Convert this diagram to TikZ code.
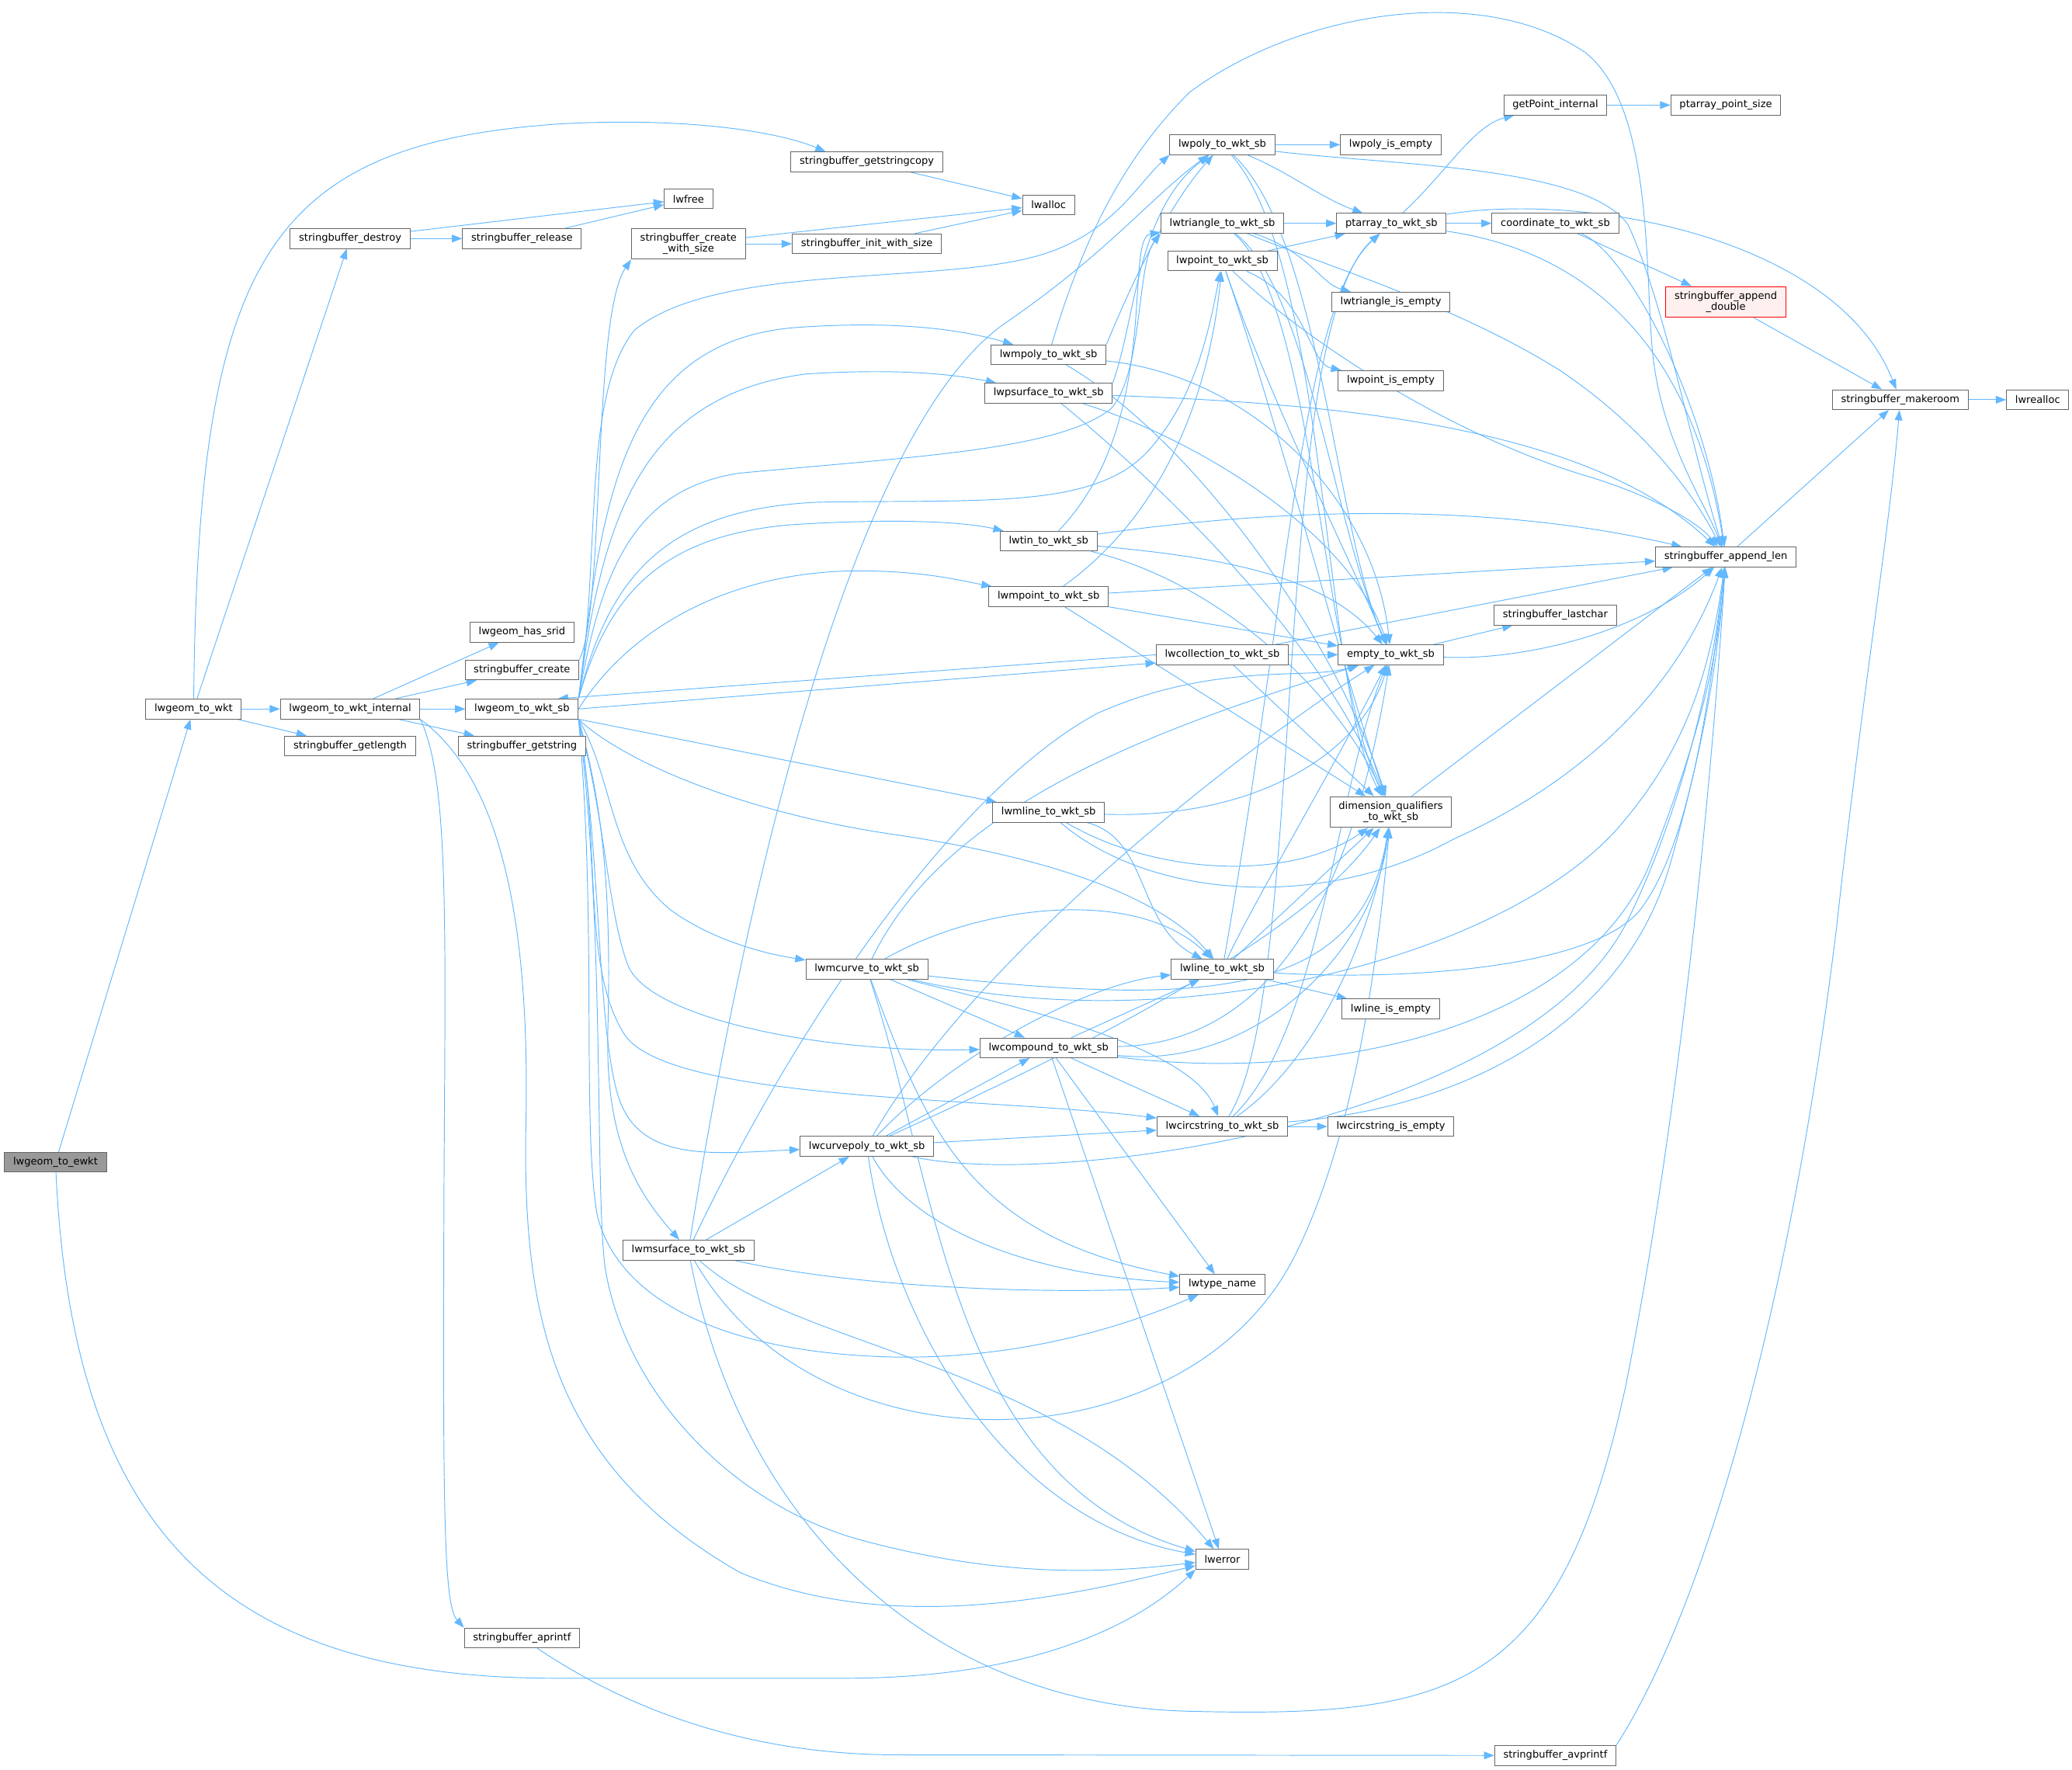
\documentclass[tikz,border=0pt]{standalone}
\usepackage{fontspec}
\setmainfont{DejaVu Sans}
\usepackage{tikz}
\usetikzlibrary{arrows.meta}
\pgfdeclarelayer{background}
\pgfsetlayers{background,main}
\definecolor{edgeblue}{HTML}{63B8FF}
\definecolor{boxgrey}{HTML}{666666}
\definecolor{rootgrey}{HTML}{999999}
\definecolor{warnfill}{HTML}{FFF0F0}
\tikzset{
  fnode/.style={draw=boxgrey, fill=white, line width=0.8pt, inner xsep=0.33cm, inner ysep=5.2pt, minimum height=0.75cm, align=center, font=\fontsize{10.9}{12}\selectfont},
  rootnode/.style={fnode, fill=rootgrey},
  warnnode/.style={fnode, draw=red, fill=warnfill},
  cgarrow/.style={-{Triangle[length=0.39cm,width=0.29cm]}, draw=edgeblue, line width=0.8pt}
}

\begin{document}
\begin{tikzpicture}[x=0.05cm, y=-0.05cm]
\useasboundingbox (0,0) rectangle (1568,1339);
\node[rootnode] (ewkt) at (42,879.5) {lwgeom\_to\_ewkt};
\node[fnode] (towkt) at (146.5,536.5) {lwgeom\_to\_wkt};
\node[fnode] (destroy) at (265,180.5) {stringbuffer\_destroy};
\node[fnode] (release) at (395,180.5) {stringbuffer\_release};
\node[fnode] (lwfree) at (521,150.5) {lwfree};
\node[fnode] (getstringcopy) at (656,122.5) {stringbuffer\_getstringcopy};
\node[fnode] (lwalloc) at (793.5,155) {lwalloc};
\node[fnode] (createws) at (521,184.5) {stringbuffer\_create\\\_with\_size};
\node[fnode] (initws) at (656,184.5) {stringbuffer\_init\_with\_size};
\node[fnode] (internal) at (265,536.5) {lwgeom\_to\_wkt\_internal};
\node[fnode] (getlength) at (265,564.5) {stringbuffer\_getlength};
\node[fnode] (hassrid) at (395,478.5) {lwgeom\_has\_srid};
\node[fnode] (sbcreate) at (395,507) {stringbuffer\_create};
\node[fnode] (wktsb) at (395,536.5) {lwgeom\_to\_wkt\_sb};
\node[fnode] (getstring) at (395,564.5) {stringbuffer\_getstring};
\node[fnode] (aprintf) at (395,1239.5) {stringbuffer\_aprintf};
\node[fnode] (avprintf) at (1177,1328.5) {stringbuffer\_avprintf};
\node[fnode] (mpoly) at (793.5,268.5) {lwmpoly\_to\_wkt\_sb};
\node[fnode] (psurface) at (793.5,297.5) {lwpsurface\_to\_wkt\_sb};
\node[fnode] (tin) at (793.5,409.5) {lwtin\_to\_wkt\_sb};
\node[fnode] (mpoint) at (793.5,451.5) {lwmpoint\_to\_wkt\_sb};
\node[fnode] (mline) at (793.5,614.8) {lwmline\_to\_wkt\_sb};
\node[fnode] (mcurve) at (656,733.5) {lwmcurve\_to\_wkt\_sb};
\node[fnode] (curvepoly) at (656,867.5) {lwcurvepoly\_to\_wkt\_sb};
\node[fnode] (msurface) at (521,946) {lwmsurface\_to\_wkt\_sb};
\node[fnode] (compound) at (793.5,793) {lwcompound\_to\_wkt\_sb};
\node[fnode] (poly) at (925,109.5) {lwpoly\_to\_wkt\_sb};
\node[fnode] (triangle) at (925,169) {lwtriangle\_to\_wkt\_sb};
\node[fnode] (point) at (925,197.5) {lwpoint\_to\_wkt\_sb};
\node[fnode] (collection) at (925,495.5) {lwcollection\_to\_wkt\_sb};
\node[fnode] (line) at (925,733.5) {lwline\_to\_wkt\_sb};
\node[fnode] (circstring) at (925,852.5) {lwcircstring\_to\_wkt\_sb};
\node[fnode] (typename) at (925,972) {lwtype\_name};
\node[fnode] (lwerror) at (925,1180) {lwerror};
\node[fnode] (polyempty) at (1052.5,109.5) {lwpoly\_is\_empty};
\node[fnode] (ptarray) at (1053,169) {ptarray\_to\_wkt\_sb};
\node[fnode] (triempty) at (1052.5,228.5) {lwtriangle\_is\_empty};
\node[fnode] (pointempty) at (1052.5,288) {lwpoint\_is\_empty};
\node[fnode] (empty) at (1052.5,495.5) {empty\_to\_wkt\_sb};
\node[fnode] (dimq) at (1052.5,614.5) {dimension\_qualifiers\\\_to\_wkt\_sb};
\node[fnode] (lineempty) at (1052.5,763.5) {lwline\_is\_empty};
\node[fnode] (circempty) at (1052.5,852.5) {lwcircstring\_is\_empty};
\node[fnode] (getpoint) at (1177,79.5) {getPoint\_internal};
\node[fnode] (ptsize) at (1306,79.5) {ptarray\_point\_size};
\node[fnode] (coord) at (1177,169) {coordinate\_to\_wkt\_sb};
\node[warnnode] (appenddouble) at (1306,228.5) {stringbuffer\_append\\\_double};
\node[fnode] (lastchar) at (1177,465.5) {stringbuffer\_lastchar};
\node[fnode] (appendlen) at (1306,421.5) {stringbuffer\_append\_len};
\node[fnode] (makeroom) at (1438,302.5) {stringbuffer\_makeroom};
\node[fnode] (lwrealloc) at (1542,302.5) {lwrealloc};
\begin{pgfonlayer}{background}
\draw[cgarrow] (ewkt) -- (towkt);
\draw[cgarrow] (ewkt) .. controls (55,1160) and (170,1270) .. (420,1270) -- (640,1270) .. controls (780,1270) and (860,1230) .. (lwerror.south west);
\draw[cgarrow] (towkt) -- (destroy);
\draw[cgarrow] (towkt) .. controls (150,200) and (200,110) .. (420,94) .. controls (520,88) and (590,100) .. (getstringcopy.166);
\draw[cgarrow] (towkt) -- (internal);
\draw[cgarrow] (towkt) -- (getlength);
\draw[cgarrow] (destroy) -- (release);
\draw[cgarrow] (destroy) -- (lwfree);
\draw[cgarrow] (release) -- (lwfree);
\draw[cgarrow] (getstringcopy) -- (lwalloc);
\draw[cgarrow] (createws) -- (lwalloc);
\draw[cgarrow] (createws) -- (initws);
\draw[cgarrow] (initws) -- (lwalloc);
\draw[cgarrow] (internal) -- (hassrid);
\draw[cgarrow] (internal) -- (sbcreate);
\draw[cgarrow] (internal) -- (wktsb);
\draw[cgarrow] (internal) -- (getstring);
\draw[cgarrow] (internal.south east) .. controls (340,590) and (337,700) .. (336,900) .. controls (335,1150) and (336,1215) .. (aprintf.north west);
\draw[cgarrow] (internal.south east) .. controls (380,590) and (401,700) .. (398,850) .. controls (395,1000) and (420,1110) .. (560,1190) .. controls (680,1240) and (820,1205) .. (lwerror);
\draw[cgarrow] (sbcreate.north east) .. controls (458,460) and (448,240) .. (createws.south west);
\draw[cgarrow] (wktsb.north east) .. controls (455,420) and (440,300) .. (480,250) .. controls (540,200) and (700,215) .. (780,195) .. controls (840,180) and (860,140) .. (poly.south west);
\draw[cgarrow] (wktsb.north east) .. controls (455,380) and (470,260) .. (600,248) .. controls (680,242) and (730,250) .. (mpoly);
\draw[cgarrow] (wktsb.north east) .. controls (455,400) and (480,300) .. (610,283) .. controls (690,278) and (730,285) .. (psurface);
\draw[cgarrow] (wktsb.north east) .. controls (455,430) and (480,370) .. (560,358) .. controls (700,345) and (800,340) .. (840,310) .. controls (865,285) and (860,200) .. (triangle.south west);
\draw[cgarrow] (wktsb.north east) .. controls (460,440) and (500,385) .. (620,380) .. controls (750,378) and (830,385) .. (870,340) .. controls (905,300) and (915,250) .. (point);
\draw[cgarrow] (wktsb.north east) .. controls (460,450) and (500,405) .. (600,397) .. controls (680,392) and (730,395) .. (tin);
\draw[cgarrow] (wktsb.east) .. controls (480,470) and (560,432) .. (650,432) .. controls (700,432) and (730,440) .. (mpoint);
\draw[cgarrow] (wktsb.east) -- (collection.187);
\draw[cgarrow] (collection.west) -- (wktsb.16);
\draw[cgarrow] (wktsb.south east) -- (mline);
\draw[cgarrow] (wktsb.south east) .. controls (470,575) and (560,615) .. (680,632) .. controls (800,650) and (880,680) .. (line);
\draw[cgarrow] (wktsb.south east) .. controls (465,590) and (460,650) .. (508,689) .. controls (540,712) and (580,722) .. (mcurve);
\draw[cgarrow] (wktsb.south east) .. controls (458,620) and (460,690) .. (475,730) .. controls (490,770) and (620,797) .. (compound);
\draw[cgarrow] (wktsb.south east) .. controls (455,640) and (440,730) .. (472,782) .. controls (504,834) and (750,830) .. (circstring);
\draw[cgarrow] (wktsb.south east) .. controls (455,650) and (452,780) .. (468,830) .. controls (484,880) and (540,873) .. (curvepoly);
\draw[cgarrow] (wktsb.south east) .. controls (460,620) and (462,700) .. (460,780) .. controls (458,860) and (480,900) .. (msurface);
\draw[cgarrow] (wktsb.south east) .. controls (452,700) and (440,850) .. (452,920) .. controls (470,990) and (560,1025) .. (680,1027) .. controls (780,1028) and (860,1000) .. (typename);
\draw[cgarrow] (wktsb.south east) .. controls (458,700) and (450,900) .. (458,960) .. controls (475,1060) and (560,1140) .. (650,1165) .. controls (760,1195) and (840,1190) .. (lwerror);
\draw[cgarrow] (mpoly.north east) .. controls (850,230) and (880,160) .. (poly);
\draw[cgarrow] (mpoly) .. controls (820,180) and (850,120) .. (900,70) .. controls (980,10) and (1120,-15) .. (1200,40) .. controls (1250,80) and (1245,200) .. (1250,260) .. controls (1255,330) and (1290,380) .. (appendlen);
\draw[cgarrow] (mpoly) .. controls (950,285) and (1040,380) .. (empty);
\draw[cgarrow] (mpoly) .. controls (900,330) and (1010,480) .. (dimq);
\draw[cgarrow] (psurface.north east) .. controls (860,240) and (860,160) .. (poly);
\draw[cgarrow] (psurface) .. controls (1000,305) and (1200,320) .. (appendlen);
\draw[cgarrow] (psurface) .. controls (900,330) and (1020,400) .. (empty);
\draw[cgarrow] (psurface) .. controls (870,360) and (1000,480) .. (dimq);
\draw[cgarrow] (tin) .. controls (880,320) and (850,180) .. (triangle);
\draw[cgarrow] (tin) .. controls (900,420) and (1000,430) .. (empty);
\draw[cgarrow] (tin) .. controls (920,440) and (1010,520) .. (dimq);
\draw[cgarrow] (tin) .. controls (1000,380) and (1150,385) .. (appendlen);
\draw[cgarrow] (mpoint) .. controls (880,390) and (915,300) .. (point);
\draw[cgarrow] (mpoint) -- (empty);
\draw[cgarrow] (mpoint) -- (dimq);
\draw[cgarrow] (mpoint) -- (appendlen);
\draw[cgarrow] (collection) -- (empty);
\draw[cgarrow] (collection) -- (dimq);
\draw[cgarrow] (collection) -- (appendlen);
\draw[cgarrow] (mline) .. controls (870,635) and (860,700) .. (line);
\draw[cgarrow] (mline) .. controls (950,620) and (1030,570) .. (empty);
\draw[cgarrow] (mline) .. controls (880,665) and (980,665) .. (dimq);
\draw[cgarrow] (mline) .. controls (870,680) and (1000,690) .. (1100,635) .. controls (1200,590) and (1270,520) .. (appendlen);
\draw[cgarrow] (mcurve) .. controls (740,685) and (860,670) .. (line);
\draw[cgarrow] (mcurve) -- (compound);
\draw[cgarrow] (mcurve) .. controls (760,760) and (900,790) .. (circstring);
\draw[cgarrow] (mcurve) .. controls (720,600) and (900,545) .. (empty);
\draw[cgarrow] (mcurve) .. controls (900,760) and (1030,760) .. (dimq);
\draw[cgarrow] (mcurve) .. controls (900,790) and (1150,720) .. (1230,620) .. controls (1280,560) and (1295,500) .. (appendlen);
\draw[cgarrow] (mcurve) .. controls (700,850) and (730,935) .. (typename);
\draw[cgarrow] (mcurve) .. controls (710,900) and (720,1120) .. (lwerror);
\draw[cgarrow] (curvepoly) .. controls (720,800) and (820,745) .. (line);
\draw[cgarrow] (curvepoly) -- (compound);
\draw[cgarrow] (curvepoly) -- (circstring);
\draw[cgarrow] (curvepoly) .. controls (740,720) and (950,560) .. (empty);
\draw[cgarrow] (curvepoly) .. controls (760,820) and (980,720) .. (dimq);
\draw[cgarrow] (curvepoly) .. controls (800,900) and (1150,850) .. (1230,700) .. controls (1270,620) and (1295,520) .. (appendlen);
\draw[cgarrow] (curvepoly) .. controls (690,930) and (780,965) .. (typename);
\draw[cgarrow] (curvepoly) .. controls (675,1000) and (760,1150) .. (lwerror);
\draw[cgarrow] (msurface) -- (curvepoly);
\draw[cgarrow] (msurface) .. controls (560,700) and (640,330) .. (760,245) .. controls (840,190) and (870,150) .. (poly);
\draw[cgarrow] (msurface) .. controls (600,780) and (720,600) .. (830,540) .. controls (920,500) and (990,515) .. (empty);
\draw[cgarrow] (msurface) .. controls (620,1120) and (900,1110) .. (980,950) .. controls (1030,850) and (1045,700) .. (dimq);
\draw[cgarrow] (msurface) .. controls (560,1150) and (700,1290) .. (900,1295) .. controls (1100,1300) and (1180,1280) .. (1230,1050) .. controls (1270,850) and (1295,600) .. (appendlen);
\draw[cgarrow] (msurface) .. controls (650,975) and (800,980) .. (typename);
\draw[cgarrow] (msurface) .. controls (600,1020) and (800,1030) .. (lwerror);
\draw[cgarrow] (compound) -- (line);
\draw[cgarrow] (compound) -- (circstring);
\draw[cgarrow] (compound) .. controls (950,790) and (1020,700) .. (empty);
\draw[cgarrow] (compound) .. controls (950,810) and (1040,720) .. (dimq);
\draw[cgarrow] (compound) .. controls (1000,820) and (1200,780) .. (1250,650) .. controls (1285,560) and (1300,500) .. (appendlen);
\draw[cgarrow] (compound) -- (typename);
\draw[cgarrow] (compound) -- (lwerror);
\draw[cgarrow] (line) .. controls (975,450) and (985,230) .. (ptarray);
\draw[cgarrow] (line) -- (lineempty);
\draw[cgarrow] (line) .. controls (950,680) and (1010,580) .. (empty);
\draw[cgarrow] (line) -- (dimq);
\draw[cgarrow] (line) .. controls (1050,742) and (1200,735) .. (1240,690) .. controls (1280,640) and (1295,520) .. (appendlen);
\draw[cgarrow] (circstring) .. controls (990,750) and (960,250) .. (ptarray);
\draw[cgarrow] (circstring) -- (circempty);
\draw[cgarrow] (circstring) .. controls (1000,780) and (1010,600) .. (empty);
\draw[cgarrow] (circstring) .. controls (1000,800) and (1040,700) .. (dimq);
\draw[cgarrow] (circstring) .. controls (1100,840) and (1230,780) .. (1265,650) .. controls (1290,560) and (1300,500) .. (appendlen);
\draw[cgarrow] (poly) -- (polyempty);
\draw[cgarrow] (poly) .. controls (975,130) and (1000,150) .. (ptarray);
\draw[cgarrow] (poly) .. controls (1000,180) and (1010,400) .. (empty);
\draw[cgarrow] (poly) .. controls (1005,200) and (1000,520) .. (dimq);
\draw[cgarrow] (poly) .. controls (1050,125) and (1200,125) .. (1232,170) .. controls (1260,230) and (1280,340) .. (appendlen);
\draw[cgarrow] (triangle) -- (ptarray);
\draw[cgarrow] (triangle) .. controls (990,190) and (1000,215) .. (triempty);
\draw[cgarrow] (triangle) .. controls (990,220) and (1010,400) .. (empty);
\draw[cgarrow] (triangle) .. controls (995,230) and (1000,500) .. (dimq);
\draw[cgarrow] (triangle) .. controls (1000,200) and (1100,230) .. (1180,280) .. controls (1240,320) and (1280,370) .. (appendlen);
\draw[cgarrow] (point) -- (ptarray);
\draw[cgarrow] (point) .. controls (990,225) and (990,275) .. (pointempty);
\draw[cgarrow] (point) .. controls (960,300) and (1020,420) .. (empty);
\draw[cgarrow] (point) .. controls (970,330) and (1020,520) .. (dimq);
\draw[cgarrow] (point) .. controls (990,260) and (1100,330) .. (1200,360) .. controls (1250,375) and (1285,395) .. (appendlen);
\draw[cgarrow] (ptarray) .. controls (1095,130) and (1115,95) .. (getpoint);
\draw[cgarrow] (ptarray) -- (coord);
\draw[cgarrow] (ptarray) .. controls (1200,190) and (1280,260) .. (appendlen);
\draw[cgarrow] (ptarray) .. controls (1200,145) and (1390,180) .. (makeroom);
\draw[cgarrow] (getpoint) -- (ptsize);
\draw[cgarrow] (coord) -- (appenddouble);
\draw[cgarrow] (coord) .. controls (1230,190) and (1290,300) .. (appendlen);
\draw[cgarrow] (appenddouble) -- (makeroom);
\draw[cgarrow] (empty) -- (lastchar);
\draw[cgarrow] (empty) .. controls (1150,500) and (1240,480) .. (appendlen);
\draw[cgarrow] (dimq) -- (appendlen);
\draw[cgarrow] (appendlen) -- (makeroom);
\draw[cgarrow] (makeroom) -- (lwrealloc);
\draw[cgarrow] (aprintf) .. controls (470,1290) and (560,1328) .. (680,1328) -- (avprintf);
\draw[cgarrow] (avprintf.north east) .. controls (1300,1200) and (1360,950) .. (1390,700) .. controls (1410,520) and (1430,400) .. (makeroom);
\end{pgfonlayer}
\end{tikzpicture}
\end{document}
